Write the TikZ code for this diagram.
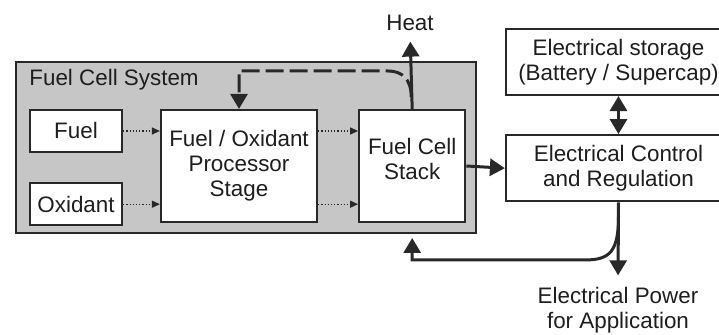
\documentclass[tikz,border=0pt]{standalone}
\usepackage{fontspec}
\setmainfont{Liberation Sans}
\usepackage{tikz}
\usetikzlibrary{arrows.meta,positioning,fit,calc}
\definecolor{sysgray}{RGB}{198,198,198}
\definecolor{linedark}{RGB}{40,40,40}
\definecolor{textdark}{RGB}{30,30,30}
\tikzset{
  block/.style={rectangle, draw=linedark, line width=1.1pt, fill=white, align=center,
                inner sep=0pt, text=textdark, font=\fontsize{11.2}{12.5}\selectfont},
  sysbox/.style={rectangle, draw=linedark, line width=1pt, fill=sysgray, inner sep=0pt},
  flow/.style={-{Triangle[length=4pt,width=3.5pt]}, densely dotted, line width=0.6pt, linedark},
  power/.style={-{Triangle[length=7.5pt,width=8.5pt]}, line width=1.5pt, linedark},
  twoway/.style={{Triangle[length=7.5pt,width=8.5pt]}-{Triangle[length=7.5pt,width=8.5pt]}, line width=1.5pt, linedark},
  feedback/.style={-{Triangle[length=7.5pt,width=8.5pt]}, line width=1.5pt, dash pattern=on 9pt off 3pt, linedark},
  txt/.style={align=center, inner sep=0pt, text=textdark, font=\fontsize{11.2}{12.5}\selectfont},
}
\begin{document}
\begin{tikzpicture}[x=0.5pt, y=-0.5pt]
\useasboundingbox (0,0) rectangle (719,335);
\clip (0,0) rectangle (719,335);

% fuel cell system frame
\node[sysbox, fit={(16,62) (476,233)}] (sys) {};
\node[txt, anchor=west] (systitle) at (29,80) {Fuel Cell System};

\node[block, minimum width=46pt, minimum height=21pt] (fuel) at (76,131) {Fuel};
\node[block, minimum width=46pt, minimum height=21pt, below=14.5pt of fuel] (oxid) {Oxidant};
\node[block, minimum width=78pt, minimum height=56pt] (proc) at (239,166) {Fuel / Oxidant\\Processor\\Stage};
\node[block, minimum width=53pt, minimum height=56pt, right=20pt of proc] (stack) {Fuel Cell\\Stack\\[-5pt]};

% electrical side
\node[block, minimum width=112.5pt, minimum height=33pt] (storage) at (618.5,62) {Electrical storage\\(Battery / Supercap)};
\node[block, minimum width=112.5pt, minimum height=33pt, below=19pt of storage] (ctrl) {Electrical Control\\and Regulation};

\node[txt, anchor=base] (heat) at (410,31) {Heat};
\node[txt, anchor=base] (app) at (618,329) {Electrical Power\\for Application};

\draw[flow] (fuel) -- (fuel -| proc.west);
\draw[flow] (oxid) -- (oxid -| proc.west);
\draw[flow] (fuel -| proc.east) -- (fuel -| stack.west);
\draw[flow] (oxid -| proc.east) -- (oxid -| stack.west);

\draw[power, shorten >=5pt] (stack.north) -- (heat.south);
\coordinate (fbstart) at ($(stack.north)+(-1,-12)$);
\draw[feedback] (fbstart) .. controls +(0,-18) and +(14,0) .. (388,71) -| (proc.north);

\draw[power] (stack.east) -- (ctrl.west);
\draw[twoway] (storage) -- (ctrl);
\draw[power, shorten >=6pt] (ctrl.south) -- (app.north);

\coordinate (split) at ($(ctrl.south)+(0,14)$);
\draw[power] (split) .. controls +(0,35) and +(25,0) .. (585,260) -| ($(stack.south |- sys.south)+(0,4)$);
\end{tikzpicture}
\end{document}
